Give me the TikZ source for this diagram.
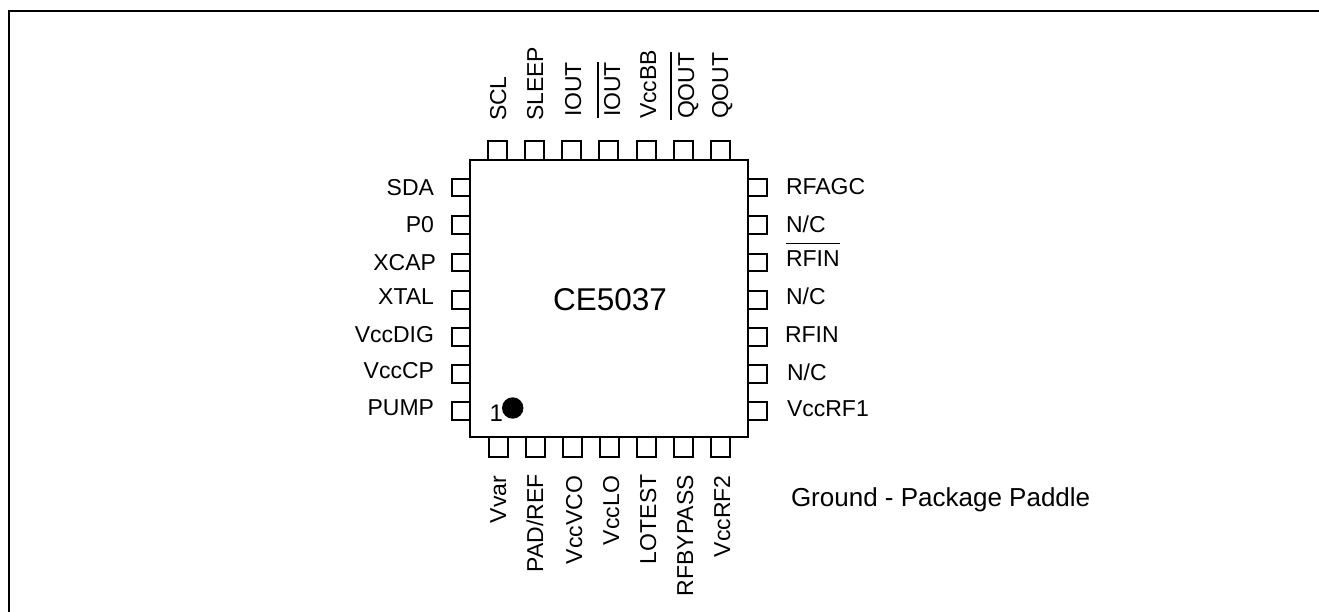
\documentclass[tikz,border=0pt]{standalone}
\usepackage{fontspec}
\setmainfont{Liberation Sans}
\tikzset{
  lbl/.style={inner sep=0pt,outer sep=0pt,font=\fontsize{23}{26}\selectfont,text=black},
  lline/.style={lbl,anchor=base east},
  rline/.style={lbl,anchor=base west},
  vline/.style={lbl,rotate=90,anchor=base west},
  ink/.style={line width=2pt,draw=black},
  pin/.style={ink,fill=white,line join=miter}
}
\begin{document}
\begin{tikzpicture}[x=1pt,y=-1pt]
\useasboundingbox (0,0) rectangle (1319,612);
% frame, open at the bottom and the right
\coordinate (fa) at (9,612);
\coordinate (fb) at (9,11);
\coordinate (fc) at (1319,11);
\draw[ink,line width=2.2pt] (fa) -- (fb) -- (fc);
% top pins
\foreach \x in {488,525,562,599,637,674,711}
  \draw[pin] (\x,160) -- (\x,141) -- (\x+19,141) -- (\x+19,160);
% bottom pins
\foreach \x in {489,526,563,600,637,674,711}
  \draw[pin] (\x,437) -- (\x,457) -- (\x+19,457) -- (\x+19,437);
% left and right pins
\foreach \y in {179,216.5,254,291,328,365,402}{
  \draw[pin] (470,\y) -- (451.5,\y) -- (451.5,\y+17.5) -- (470,\y+17.5);
  \draw[pin] (748,\y) -- (766.5,\y) -- (766.5,\y+17.5) -- (748,\y+17.5);
}
% package
\node[draw=black,line width=2pt,fill=white,minimum width=278pt,minimum height=277pt,inner sep=0pt,outer sep=0pt] (chip) at (609,298.5) {};
\node[lbl,anchor=base east,font=\fontsize{31.5}{34}\selectfont] (name) at (667,310.5) {CE5037};
\fill[black] (512.7,408) circle (10.7);
\node[rline,font=\fontsize{24}{26}\selectfont] (one) at (489.5,421) {1};
% left labels
\node[lline] (l1) at (434,196) {SDA};
\node[lline] (l2) at (434,233) {P0};
\node[lline] (l3) at (436,270) {XCAP};
\node[lline] (l4) at (434,305) {XTAL};
\node[lline] (l5) at (434,342) {VccDIG};
\node[lline] (l6) at (434,378) {VccCP};
\node[lline] (l7) at (434,415) {PUMP};
% right labels
\node[rline] (r1) at (786,195) {RFAGC};
\node[rline] (r2) at (786,233) {N/C};
\node[rline] (r3) at (786,266) {RFIN};
\node[rline] (r4) at (786,304) {N/C};
\node[rline] (r5) at (785,342) {RFIN};
\node[rline] (r6) at (787,380) {N/C};
\node[rline] (r7) at (787,416) {VccRF1};
\coordinate (ba) at (786,243.5);
\coordinate (bb) at (840,243.5);
\draw[black,line width=1.8pt] (ba) -- (bb);
% top labels
\node[vline] (t1) at (506,121) {SCL};
\node[vline] (t2) at (543,121) {SLEEP};
\node[vline] (t3) at (581,117) {IOUT};
\node[vline] (t4) at (620,117) {IOUT};
\node[vline] (t5) at (656,119) {VccBB};
\node[vline] (t6) at (694,119) {QOUT};
\node[vline] (t7) at (728,119) {QOUT};
\coordinate (tba) at (598,118);
\coordinate (tbb) at (598,62);
\draw[black,line width=1.8pt] (tba) -- (tbb);
\coordinate (tca) at (671,120);
\coordinate (tcb) at (671,52);
\draw[black,line width=1.8pt] (tca) -- (tcb);
% bottom labels
\node[vline] (b1) at (506,523) {Vvar};
\node[vline] (b2) at (543,572) {PAD/REF};
\node[vline] (b3) at (582,564) {VccVCO};
\node[vline] (b4) at (619,545) {VccLO};
\node[vline] (b5) at (656,564) {LOTEST};
\node[vline] (b6) at (693,596) {RFBYPASS};
\node[vline] (b7) at (730,557) {VccRF2};
\node[rline,font=\fontsize{26}{28}\selectfont] (g) at (791,506.5) {Ground - Package Paddle};
\end{tikzpicture}
\end{document}
